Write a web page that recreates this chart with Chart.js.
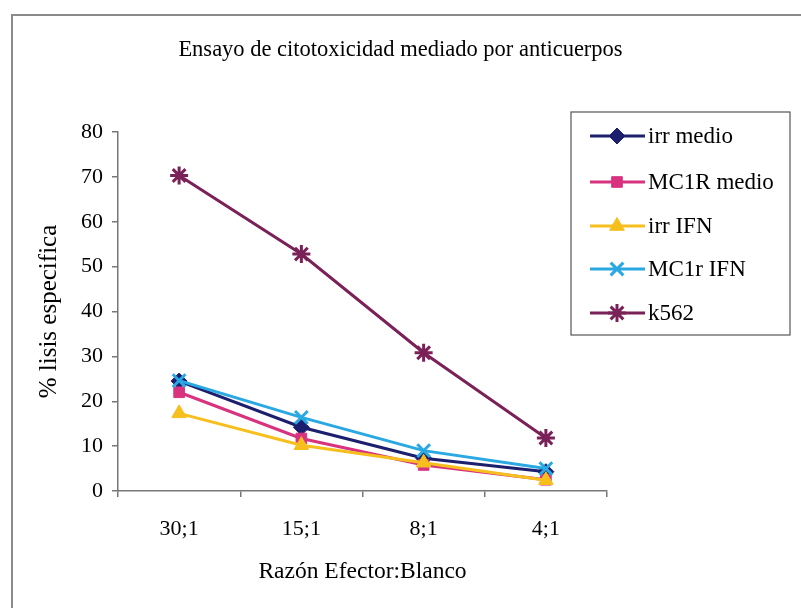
<!DOCTYPE html>
<html>
<head>
<meta charset="utf-8">
<script src="https://cdn.jsdelivr.net/npm/chart.js@4.4.1/dist/chart.umd.min.js"></script>
<style>
  html, body { margin: 0; padding: 0; background: #fff; }
  #wrap { width: 801px; height: 608px; position: relative; }
</style>
</head>
<body>
<div id="wrap"><canvas id="c" width="801" height="608"></canvas></div>
<script>
const chartTitle = "Ensayo de citotoxicidad mediado por anticuerpos";
const xAxisTitle = "Razón Efector:Blanco";
const yAxisTitle = "% lisis especifica";
const categories = ["30;1", "15;1", "8;1", "4;1"];
const seriesNames = ["irr medio", "MC1R medio", "irr IFN", "MC1r IFN", "k562"];
const irrMedio  = [24.5, 14.2, 7.3, 4.3];
const mc1rMedio = [22.0, 11.7, 5.8, 2.5];
const irrIFN    = [17.3, 10.2, 6.3, 2.4];
const mc1rIFN   = [24.6, 16.4, 9.0, 5.0];
const k562      = [70.3, 52.8, 30.8, 11.8];
const yTicks = [0, 10, 20, 30, 40, 50, 60, 70, 80];

const seriesValues = [irrMedio, mc1rMedio, irrIFN, mc1rIFN, k562];
const colors = ["#1c1f6e", "#d8337f", "#f6bf1e", "#2aa8e2", "#7a2158"];
const styles = ["rectRot", "rect", "triangle", "crossRot", "star"];
const radii = [8, 7.5, 8.5, 9, 9];

const FONT = "'Liberation Serif', 'Times New Roman', serif";

const datasets = seriesValues.map((vals, i) => ({
  label: seriesNames[i],
  data: vals,
  borderColor: colors[i],
  backgroundColor: colors[i],
  borderWidth: 3,
  pointStyle: styles[i],
  pointRadius: radii[i],
  pointBorderWidth: (styles[i] === 'crossRot' || styles[i] === 'star') ? 3 : 1,
  pointBackgroundColor: colors[i],
  pointBorderColor: colors[i],
  tension: 0,
  yAxisID: 'y',
  order: seriesValues.length - i
}));

const framePlugin = {
  id: 'frame',
  beforeDraw(chart) {
    const ctx = chart.ctx;
    ctx.save();
    ctx.strokeStyle = '#8a8a8a';
    ctx.lineWidth = 2;
    ctx.beginPath();
    ctx.moveTo(12, 608);
    ctx.lineTo(12, 15);
    ctx.lineTo(801, 15);
    ctx.stroke();
    ctx.restore();
  }
};

const legendPlugin = {
  id: 'customLegend',
  afterDraw(chart) {
    const ctx = chart.ctx;
    const bx = 571, by = 112, bw = 219, bh = 223;
    ctx.save();
    ctx.strokeStyle = '#555';
    ctx.lineWidth = 1.2;
    ctx.strokeRect(bx, by, bw, bh);
    const rows = [136, 182, 226, 269, 313];
    const drawPoint = Chart.helpers && Chart.helpers.drawPoint;
    chart.data.datasets.forEach((ds, i) => {
      const y = rows[i];
      ctx.strokeStyle = ds.borderColor;
      ctx.lineWidth = 3;
      ctx.beginPath();
      ctx.moveTo(590, y);
      ctx.lineTo(645, y);
      ctx.stroke();
      ctx.fillStyle = ds.pointBackgroundColor;
      ctx.strokeStyle = ds.pointBorderColor;
      ctx.lineWidth = ds.pointBorderWidth;
      if (drawPoint) {
        drawPoint(ctx, { pointStyle: ds.pointStyle, radius: ds.pointRadius, rotation: 0, borderWidth: ds.pointBorderWidth }, 617, y);
      }
      ctx.fillStyle = '#000';
      ctx.font = "23px " + FONT;
      ctx.textAlign = 'left';
      ctx.textBaseline = 'middle';
      ctx.fillText(ds.label, 648, y + 1);
    });
    ctx.restore();
  }
};

new Chart(document.getElementById('c'), {
  type: 'line',
  data: { labels: categories, datasets },
  options: {
    responsive: false,
    animation: false,
    devicePixelRatio: 1,
    layout: { padding: { left: 0, right: 0, top: 0, bottom: 0 } },
    plugins: {
      legend: { display: false },
      tooltip: { enabled: false },
      title: {
        display: true,
        text: chartTitle,
        color: '#000',
        font: { family: FONT, size: 22.5, weight: 'normal' },
        padding: { top: 37, bottom: 68 }
      }
    },
    scales: {
      x: {
        type: 'category',
        offset: true,
        grid: { display: true, offset: true, drawOnChartArea: false, drawTicks: true, tickLength: 6, color: '#777', lineWidth: 1.5 },
        border: { display: true, color: '#777', width: 1.5 },
        ticks: { color: '#000', font: { family: FONT, size: 22 }, padding: 19, maxRotation: 0 },
        title: { display: true, text: xAxisTitle, color: '#000', font: { family: FONT, size: 23.5 }, padding: { top: 0, bottom: 22 } },
        afterFit(scale) { scale.height = 117; }
      },
      y: {
        position: 'left',
        min: 0, max: 80,
        afterBuildTicks(scale) { scale.ticks = yTicks.map(v => ({ value: v })); },
        grid: { display: true, drawOnChartArea: false, drawTicks: true, tickLength: 6, color: '#777', lineWidth: 1.5 },
        border: { display: true, color: '#777', width: 1.5 },
        ticks: { color: '#000', font: { family: FONT, size: 22 }, padding: 9 },
        title: { display: true, text: yAxisTitle, color: '#000', font: { family: FONT, size: 25 }, padding: { top: 34, bottom: 0 } },
        afterFit(scale) { scale.width = 118; }
      },
      spacer: {
        position: 'right',
        min: 0, max: 80,
        display: true,
        grid: { display: false, drawTicks: false },
        border: { display: false },
        ticks: { display: false },
        afterFit(scale) { scale.width = 194; }
      }
    }
  },
  plugins: [framePlugin, legendPlugin]
});
</script>
</body>
</html>
